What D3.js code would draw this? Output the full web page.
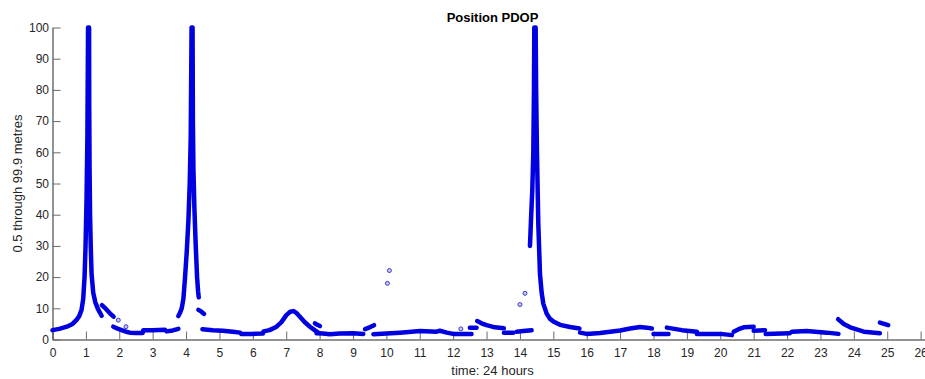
<!DOCTYPE html>
<html>
<head>
<meta charset="utf-8">
<script src="https://cdn.jsdelivr.net/npm/d3@7"></script>
<style>
  body { margin: 0; background: #fff; }
  svg { display: block; font-family: "Liberation Sans", Arial, sans-serif; }
</style>
</head>
<body>
<svg width="925" height="379"></svg>
<script>
// PDOP tracks (hours, metres), one visible run at a time
const spike1 = [[0,3.0],[0.2,3.4],[0.43,4.1],[0.6,5.0],[0.72,6.3],[0.8,7.5],[0.87,9.5],[0.92,13],[0.96,20],[0.99,30],[1.02,45],[1.045,65],[1.065,100],
  [1.095,100],[1.1,75],[1.11,55],[1.125,40],[1.145,30],[1.17,21],[1.22,15],[1.28,12],[1.36,9.8],[1.47,7.6]];
const run1b = [[1.48,11],[1.6,9.8],[1.72,8.4],[1.83,7.3]];
const run1c = [[1.82,4.1],[1.95,3.5],[2.07,3.0],[2.2,2.5],[2.32,2.2],[2.5,2.1],[2.7,2.1],[2.72,3.0],[3.0,3.0],[3.37,3.1],[3.42,2.6],[3.6,2.9],[3.77,3.4]];
const spike2 = [[3.77,7.5],[3.83,8.8],[3.87,10],[3.92,13],[3.97,20],[4.02,28],[4.07,38],[4.11,50],[4.14,65],[4.165,100],
  [4.195,100],[4.205,70],[4.22,55],[4.25,42],[4.29,30],[4.33,20],[4.36,15.5],[4.38,13.5]];
const run2b = [[4.37,9.5],[4.45,9.0],[4.54,8.2]];
const run2c = [[4.49,3.3],[4.8,3.0],[5.1,2.8],[5.4,2.5],[5.62,2.2],[5.65,1.8],[6.0,1.8],[6.3,1.9],[6.32,2.6],[6.5,3.0],[6.71,4.1],[6.85,5.5],
  [7.01,7.9],[7.12,8.9],[7.21,9.1],[7.3,8.6],[7.41,7.3],[7.55,5.6],[7.71,4.1],[7.85,3.0],[7.96,2.2]];
const run3a = [[7.86,5.2],[7.93,4.7],[8.01,4.3]];
const run3b = [[7.91,2.0],[8.1,1.9],[8.31,1.7],[8.6,1.9],[9.01,2.0],[9.31,1.8]];
const run3c = [[9.36,3.3],[9.5,3.9],[9.63,4.6]];
const run4a = [[9.61,1.7],[10.0,1.9],[10.41,2.2],[11.01,2.7],[11.5,2.5],[11.6,2.8],[11.81,2.2],[12.0,1.8],[12.55,1.8]];
const run4b = [[12.5,3.8],[12.7,3.8]];
const run4c = [[12.72,5.9],[12.85,5.2],[13.0,4.6],[13.25,3.9],[13.52,3.6]];
const run4d = [[13.52,2.2],[13.8,2.2]];
const run4e = [[13.9,2.5],[14.1,2.7],[14.35,3.0]];
const spike3 = [[14.3,30],[14.33,38],[14.37,48],[14.4,60],[14.42,80],[14.43,100],
  [14.47,100],[14.485,80],[14.51,60],[14.55,37],[14.6,21],[14.65,15],[14.7,11.5],[14.8,8.3],[14.9,6.6],[15.0,5.8],[15.2,4.7],[15.5,4.0],[15.78,3.5]];
const run5a = [[15.8,2.2],[16.0,1.8],[16.4,2.1],[17.0,2.9],[17.3,3.5],[17.6,4.0],[17.8,3.8],[17.95,3.5]];
const run5b = [[18.0,1.8],[18.45,1.8]];
const run5c = [[18.4,3.8],[18.85,3.0],[19.3,2.5]];
const run5d = [[19.3,1.8],[20.0,1.8],[20.35,1.4]];
const run6a = [[20.4,2.5],[20.55,3.3],[20.7,3.9],[21.0,4.1]];
const run6b = [[21.0,2.8],[21.34,3.0]];
const run6c = [[21.36,1.8],[22.08,2.0]];
const run6d = [[22.14,2.5],[22.59,2.7],[23.19,2.2],[23.54,1.8]];
const run7a = [[23.53,6.5],[23.7,5.0],[23.89,3.9],[24.3,2.5],[24.78,2.0]];
const run7b = [[24.78,5.4],[25.03,4.6]];

// lone fixes that sit away from the tracks
const strayPoints = [[1.97,6.2],[2.2,4.1],[10.03,18.0],[10.09,22.1],[12.23,3.4],[14.0,11.2],[14.15,14.8]];

const xTickValues = [0,1,2,3,4,5,6,7,8,9,10,11,12,13,14,15,16,17,18,19,20,21,22,23,24,25,26];
const yTickValues = [0,10,20,30,40,50,60,70,80,90,100];

const tracks = [spike1, run1b, run1c, spike2, run2b, run2c, run3a, run3b, run3c,
  run4a, run4b, run4c, run4d, run4e, spike3, run5a, run5b, run5c, run5d,
  run6a, run6b, run6c, run6d, run7a, run7b];

const svg = d3.select('svg');
const margin = {top: 27.5, left: 52.5},
    plotW = 879.8, plotH = 312;

const x = d3.scaleLinear().domain([0, 26.35]).range([margin.left, margin.left + plotW]);
const y = d3.scaleLinear().domain([0, 100]).range([margin.top + plotH, margin.top]);

const blue = '#0000e0';
const axisCol = '#262626';

// axes, matlab style: ticks point into the plot
const xAxis = d3.axisBottom(x)
  .tickValues(xTickValues)
  .tickSizeInner(-8)
  .tickSizeOuter(0)
  .tickPadding(8.5)
  .tickFormat(d3.format('d'));

const gx = svg.append('g')
  .attr('transform', 'translate(0,' + (margin.top + plotH) + ')')
  .call(xAxis);

const yAxis = d3.axisLeft(y)
  .tickValues(yTickValues)
  .tickSizeInner(-8)
  .tickSizeOuter(0)
  .tickPadding(3.5);

const gy = svg.append('g')
  .attr('transform', 'translate(' + margin.left + ',0)')
  .call(yAxis);

[gx, gy].forEach(g => {
  g.select('.domain').attr('stroke', axisCol).attr('stroke-width', 1);
  g.selectAll('.tick line').attr('stroke', '#6b6b6b').attr('stroke-width', 1);
  g.selectAll('.tick text')
    .attr('fill', axisCol)
    .style('font-size', '12px')
    .style('font-family', '"Liberation Sans", Arial, sans-serif');
});

// data
const line = d3.line()
  .x(d => x(d[0]))
  .y(d => y(d[1]));

svg.append('g')
  .selectAll('path')
  .data(tracks)
  .enter()
  .append('path')
  .attr('d', line)
  .attr('fill', 'none')
  .attr('stroke', blue)
  .attr('stroke-width', 4.5)
  .attr('stroke-linecap', 'round')
  .attr('stroke-linejoin', 'round');

svg.append('g')
  .selectAll('circle')
  .data(strayPoints)
  .enter()
  .append('circle')
  .attr('cx', d => x(d[0]))
  .attr('cy', d => y(d[1]))
  .attr('r', 2)
  .attr('fill', '#c8c8f4')
  .attr('stroke', '#3a3ad0')
  .attr('stroke-width', 1);

// labels
svg.append('text')
  .attr('x', 492.5)
  .attr('y', 21.5)
  .attr('text-anchor', 'middle')
  .style('font-size', '13px')
  .style('font-weight', 'bold')
  .attr('fill', '#000')
  .text('Position PDOP');

svg.append('text')
  .attr('x', 492.5)
  .attr('y', 375)
  .attr('text-anchor', 'middle')
  .style('font-size', '13px')
  .attr('fill', axisCol)
  .text('time: 24 hours');

svg.append('text')
  .attr('transform', 'translate(22,' + (margin.top + plotH / 2) + ') rotate(-90)')
  .attr('text-anchor', 'middle')
  .style('font-size', '13px')
  .attr('fill', axisCol)
  .text('0.5 through 99.9 metres');
</script>
</body>
</html>
